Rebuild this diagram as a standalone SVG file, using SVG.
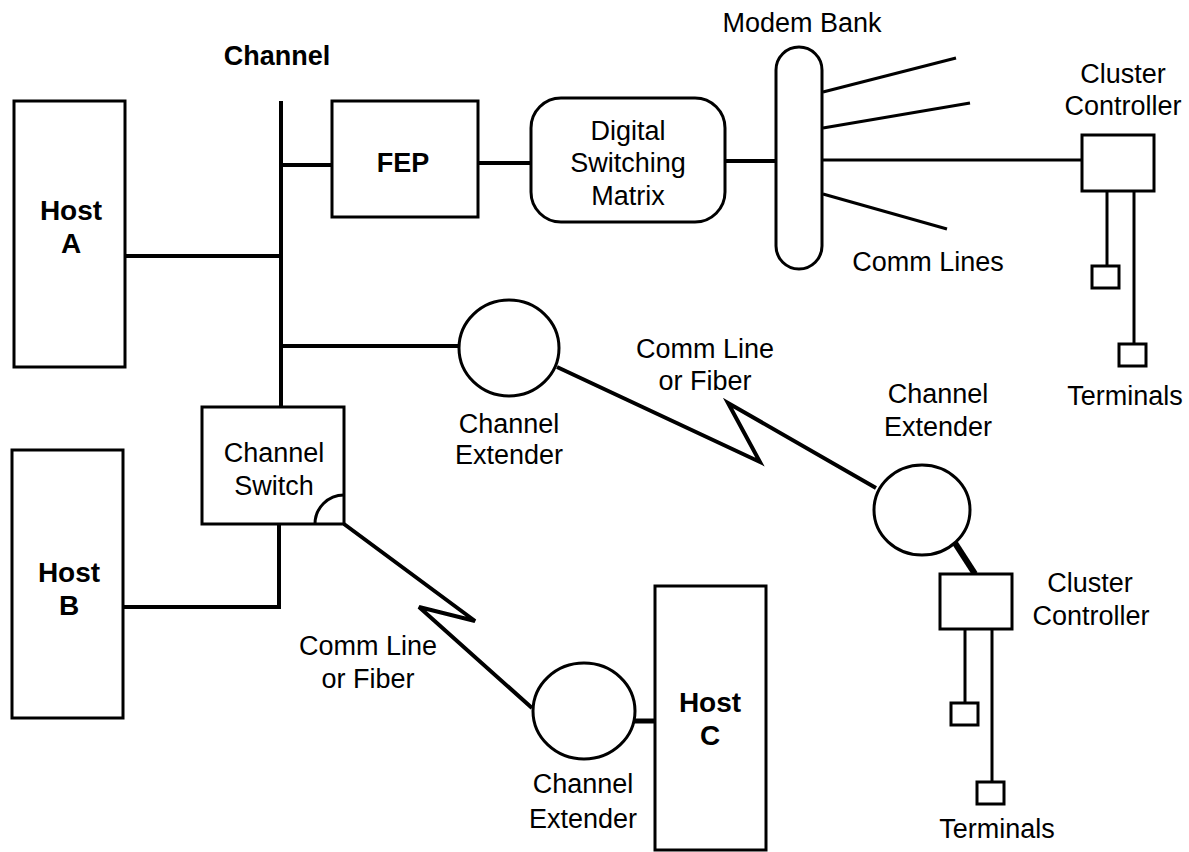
<svg xmlns="http://www.w3.org/2000/svg" width="1189" height="852" viewBox="0 0 1189 852">
<style>
.box{fill:#fff;stroke:#000;stroke-width:3}
.ln{fill:none;stroke:#000;stroke-width:4;stroke-linejoin:miter}
.thin{fill:none;stroke:#000;stroke-width:3}
text{font-family:"Liberation Sans",Arial,sans-serif;font-size:27px;fill:#000;text-anchor:middle}
.b{font-weight:bold;font-size:28px}
</style>
<rect width="1189" height="852" fill="#fff"/>
<g id="connectors">
<line class="ln" x1="281" y1="101" x2="281" y2="408"/>
<line class="ln" x1="125" y1="256" x2="283" y2="256"/>
<line class="ln" x1="281" y1="165" x2="332" y2="165"/>
<line class="ln" x1="478" y1="163" x2="531" y2="163"/>
<line class="ln" x1="725" y1="161" x2="777" y2="161"/>
<line class="ln" x1="281" y1="346" x2="459" y2="346"/>
<polyline class="ln" points="279,524 279,607 123,607"/>
<line class="thin" x1="823" y1="92" x2="956" y2="58"/>
<line class="thin" x1="823" y1="128" x2="970" y2="103"/>
<line class="thin" x1="823" y1="160" x2="1082" y2="160"/>
<line class="thin" x1="823" y1="194" x2="947" y2="229"/>
<line class="thin" x1="1107" y1="191" x2="1107" y2="266"/>
<line class="thin" x1="1134" y1="191" x2="1134" y2="344"/>
<polyline class="ln" points="557,367 760,462 728,403 876,488"/>
<polyline class="ln" points="344,524 475,621 419,607 532,708"/>
<line x1="955" y1="543" x2="975" y2="574" stroke="#000" stroke-width="6"/>
<line class="thin" x1="965" y1="629" x2="965" y2="703"/>
<line class="thin" x1="992" y1="629" x2="992" y2="782"/>
<line x1="634" y1="721" x2="656" y2="721" stroke="#000" stroke-width="5"/>
</g>
<g id="channel-label"><text class="b" x="277" y="65" style="font-size:27px">Channel</text></g>
<g id="host-a">
<rect class="box" x="14" y="101" width="111" height="266"/>
<text class="b" x="71" y="220">Host</text>
<text class="b" x="71" y="253">A</text>
</g>
<g id="host-b">
<rect class="box" x="12" y="450" width="111" height="268"/>
<text class="b" x="69" y="582">Host</text>
<text class="b" x="69" y="615">B</text>
</g>
<g id="fep">
<rect class="box" x="332" y="101" width="146" height="116"/>
<text class="b" x="403" y="172" style="font-size:27px">FEP</text>
</g>
<g id="dsm">
<rect class="box" x="531" y="98" width="194" height="124" rx="30" ry="30"/>
<text x="628" y="140">Digital</text>
<text x="628" y="172">Switching</text>
<text x="628" y="205">Matrix</text>
</g>
<g id="modem-bank">
<rect class="box" x="776" y="47" width="46" height="222" rx="23" ry="23"/>
<text x="802" y="32">Modem Bank</text>
<text x="928" y="271">Comm Lines</text>
</g>
<g id="cluster-controller-1">
<rect class="box" x="1082" y="135" width="72" height="56"/>
<text x="1123" y="83">Cluster</text>
<text x="1123" y="115">Controller</text>
</g>
<g id="terminals-1">
<rect class="box" x="1092" y="266" width="27" height="22"/>
<rect class="box" x="1119" y="344" width="27" height="22"/>
<text x="1125" y="405">Terminals</text>
</g>
<g id="channel-switch">
<rect class="box" x="202" y="407" width="142" height="117"/>
<path class="thin" d="M315 524 A29 29 0 0 1 344 495"/>
<text x="274" y="462">Channel</text>
<text x="274" y="495">Switch</text>
</g>
<g id="channel-extender-1">
<ellipse class="box" cx="509" cy="348" rx="50" ry="48"/>
<text x="509" y="433">Channel</text>
<text x="509" y="464">Extender</text>
</g>
<g id="comm-label-1">
<text x="705" y="358">Comm Line</text>
<text x="705" y="390">or Fiber</text>
</g>
<g id="channel-extender-2">
<ellipse class="box" cx="922" cy="510" rx="48" ry="45"/>
<text x="938" y="403">Channel</text>
<text x="938" y="436">Extender</text>
</g>
<g id="cluster-controller-2">
<rect class="box" x="940" y="574" width="72" height="55"/>
<text x="1090" y="592">Cluster</text>
<text x="1091" y="625">Controller</text>
</g>
<g id="terminals-2">
<rect class="box" x="951" y="703" width="27" height="22"/>
<rect class="box" x="977" y="782" width="27" height="22"/>
<text x="997" y="838">Terminals</text>
</g>
<g id="comm-label-2">
<text x="368" y="655">Comm Line</text>
<text x="368" y="688">or Fiber</text>
</g>
<g id="channel-extender-3">
<ellipse class="box" cx="584" cy="711" rx="51" ry="48"/>
<text x="583" y="793">Channel</text>
<text x="583" y="828">Extender</text>
</g>
<g id="host-c">
<rect class="box" x="655" y="586" width="111" height="264"/>
<text class="b" x="710" y="712">Host</text>
<text class="b" x="710" y="745">C</text>
</g>
</svg>
